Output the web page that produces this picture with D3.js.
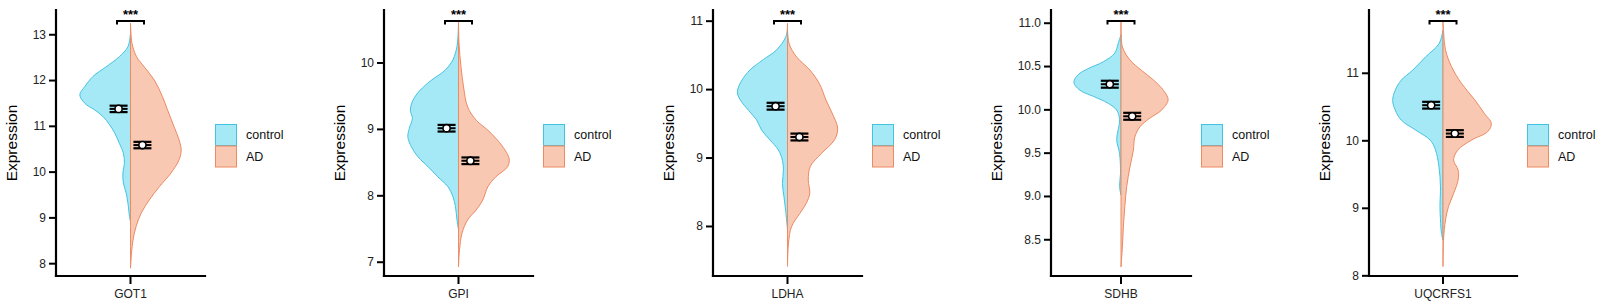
<!DOCTYPE html>
<html><head><meta charset="utf-8">
<script src="https://cdn.jsdelivr.net/npm/d3@7"></script>
<style>body{margin:0;background:#fff}svg{display:block}</style>
</head><body><svg id="c" width="1600" height="308"></svg>
<script>
const genes = ["GOT1","GPI","LDHA","SDHB","UQCRFS1"];
const groups = ["control","AD"];
const yTicks = [[8,9,10,11,12,13],[7,8,9,10],[8,9,10,11],[8.5,9,9.5,10,10.5,11],[8,9,10,11]];
const yDomains = [[7.72,13.53],[6.785,10.79],[7.269,11.156],[8.076,11.147],[7.99,11.93]];
const meanControl = [11.37, 9.01, 9.75, 10.29, 10.52];
const meanAD = [10.58, 8.52, 9.30, 9.92, 10.10];
const seControl = [0.07, 0.05, 0.05, 0.04, 0.05];
const seAD = [0.07, 0.05, 0.05, 0.04, 0.05];
const signif = ["***","***","***","***","***"];
// density profiles: [expression value, relative half-width]
const densControl = [
 [[13.02,0],[12.73,0.05],[12.51,0.22],[12.29,0.48],[12.08,0.74],[11.86,0.90],[11.68,1.0],[11.49,0.90],[11.35,0.71],[11.2,0.54],[11.02,0.41],[10.84,0.31],[10.62,0.22],[10.40,0.14],[10.18,0.12],[9.97,0.15],[9.75,0.14],[9.53,0.085],[9.31,0.05],[9.02,0.02],[8.91,0]],
 [[10.59,0],[10.39,0.01],[10.24,0.03],[10.04,0.11],[9.88,0.27],[9.73,0.54],[9.58,0.76],[9.43,0.90],[9.28,0.95],[9.16,0.91],[9.01,0.97],[8.88,1.0],[8.73,0.93],[8.58,0.80],[8.43,0.60],[8.28,0.41],[8.13,0.21],[7.98,0.11],[7.83,0.06],[7.63,0.03],[7.48,0]],
 [[10.94,0],[10.77,0.03],[10.57,0.22],[10.43,0.48],[10.28,0.74],[10.13,0.90],[9.96,0.99],[9.84,0.93],[9.69,0.77],[9.55,0.61],[9.40,0.51],[9.26,0.35],[9.11,0.18],[8.96,0.10],[8.82,0.08],[8.62,0.10],[8.43,0.07],[8.18,0.03],[7.94,0]],
 [[10.86,0],[10.76,0.06],[10.65,0.13],[10.55,0.37],[10.47,0.69],[10.40,0.90],[10.31,0.99],[10.22,0.86],[10.15,0.58],[10.07,0.27],[9.99,0.09],[9.88,0.03],[9.65,0.09],[9.49,0.03],[9.26,0.01],[9.11,0.03],[9.01,0]],
 [[11.63,0],[11.43,0.08],[11.24,0.34],[11.04,0.60],[10.89,0.83],[10.74,0.95],[10.59,1.0],[10.45,0.95],[10.30,0.83],[10.15,0.54],[10.0,0.25],[9.86,0.15],[9.61,0.08],[9.31,0.05],[9.02,0.06],[8.82,0.05],[8.62,0.03],[8.52,0]]
];
const densAD = [
 [[13.24,0],[12.80,0.03],[12.51,0.12],[12.29,0.27],[12.0,0.47],[11.64,0.63],[11.35,0.73],[10.98,0.86],[10.69,0.96],[10.47,1.0],[10.26,0.96],[9.97,0.80],[9.67,0.57],[9.38,0.37],[9.09,0.21],[8.80,0.11],[8.51,0.05],[8.22,0.02],[7.89,0]],
 [[10.64,0],[10.29,0.01],[9.93,0.05],[9.63,0.10],[9.33,0.18],[9.13,0.35],[8.98,0.58],[8.83,0.77],[8.68,0.92],[8.55,1.0],[8.43,0.97],[8.28,0.74],[8.13,0.58],[7.93,0.48],[7.78,0.35],[7.63,0.18],[7.43,0.07],[7.18,0.02],[6.92,0]],
 [[10.96,0],[10.67,0.03],[10.47,0.18],[10.28,0.44],[10.08,0.63],[9.84,0.76],[9.65,0.88],[9.43,0.99],[9.26,0.93],[9.06,0.67],[8.87,0.45],[8.67,0.41],[8.48,0.44],[8.33,0.37],[8.18,0.24],[7.99,0.08],[7.75,0.02],[7.41,0]],
 [[11.01,0],[10.72,0.03],[10.57,0.19],[10.45,0.43],[10.34,0.68],[10.22,0.89],[10.11,0.99],[9.99,0.85],[9.90,0.61],[9.80,0.40],[9.68,0.29],[9.53,0.26],[9.34,0.19],[9.11,0.12],[8.88,0.08],[8.65,0.05],[8.42,0.03],[8.18,0]],
 [[11.78,0],[11.34,0.05],[11.09,0.17],[10.84,0.37],[10.60,0.63],[10.40,0.82],[10.25,0.96],[10.13,0.89],[10.0,0.56],[9.86,0.30],[9.71,0.21],[9.56,0.30],[9.41,0.30],[9.21,0.21],[9.02,0.11],[8.82,0.05],[8.52,0.01],[8.13,0]]
];

// layout
const axisX = [56,384,713,1051,1369];
const plotW = [149,149,149,140,148];
const plotTop = 10, plotBottom = 276;
const fillC = "#a6e9f6", strokeC = "#45c2e0";
const fillA = "#f9c8b2", strokeA = "#ec8a62";
const font = "'Liberation Sans', Arial, sans-serif";

const svg = d3.select("#c");
genes.forEach((g,i)=>{
  const gp = svg.append("g");
  const y = d3.scaleLinear().domain(yDomains[i]).range([plotBottom, plotTop]);
  const x = d3.scaleBand().domain([g]).range([axisX[i], axisX[i]+plotW[i]]);
  const cx = x(g) + x.bandwidth()/2;
  const maxW = plotW[i]*0.34;
  const wScale = d3.scaleLinear().domain([0,1]).range([0,maxW]);
  const off = plotW[i]*0.08;

  const areaL = d3.area().curve(d3.curveCatmullRom.alpha(0.5))
    .y(d=>y(d[0])).x0(cx).x1(d=>cx - wScale(d[1]));
  const areaR = d3.area().curve(d3.curveCatmullRom.alpha(0.5))
    .y(d=>y(d[0])).x0(cx).x1(d=>cx + wScale(d[1]));
  gp.append("path").attr("d", areaL(densControl[i])).attr("fill", fillC).attr("stroke", strokeC).attr("stroke-width",1);
  gp.append("path").attr("d", areaR(densAD[i])).attr("fill", fillA).attr("stroke", strokeA).attr("stroke-width",1);

  // mean +/- se markers
  [[meanControl[i], seControl[i], cx-off],[meanAD[i], seAD[i], cx+off]].forEach(([m,se,px])=>{
    const hw = 9;
    gp.append("line").attr("x1",px).attr("x2",px).attr("y1",y(m-se)).attr("y2",y(m+se)).attr("stroke","#000").attr("stroke-width",2);
    [m-se, m+se].forEach(v=>gp.append("line").attr("x1",px-hw).attr("x2",px+hw).attr("y1",y(v)).attr("y2",y(v)).attr("stroke","#000").attr("stroke-width",2.2));
    gp.append("line").attr("x1",px-hw).attr("x2",px+hw).attr("y1",y(m)).attr("y2",y(m)).attr("stroke","#000").attr("stroke-width",2);
    gp.append("circle").attr("cx",px).attr("cy",y(m)).attr("r",3.6).attr("fill","#fff").attr("stroke","#000").attr("stroke-width",1.6);
  });

  // axes
  const fmt = i===3 ? d3.format(".1f") : d3.format("d");
  const ya = gp.append("g").attr("transform",`translate(${axisX[i]},0)`)
    .call(d3.axisLeft(y).tickValues(yTicks[i]).tickFormat(fmt).tickSize(7).tickPadding(3));
  ya.select(".domain").attr("d", `M0,${plotTop}V${plotBottom}`);
  const xa = gp.append("g").attr("transform",`translate(0,${plotBottom})`)
    .call(d3.axisBottom(x).tickSize(8).tickPadding(5));
  xa.select(".domain").attr("d", `M${axisX[i]},0H${axisX[i]+plotW[i]}`);
  [ya,xa].forEach(a=>{
    a.selectAll(".domain").attr("stroke","#000").attr("stroke-width",2.2).attr("stroke-linecap","square");
    a.selectAll(".tick line").attr("stroke","#000").attr("stroke-width",2);
    a.selectAll("text").attr("font-family",font).attr("font-size",12).attr("fill","#222");
  });
  let minX = 1e9;
  ya.selectAll("text").each(function(){ const b=this.getBBox(); minX=Math.min(minX,b.x); });
  const labX = axisX[i] + minX - 16;
  gp.append("text").attr("transform",`translate(${labX},${(plotTop+plotBottom)/2}) rotate(-90)`)
    .attr("text-anchor","middle").attr("font-family",font).attr("font-size",15.5).attr("fill","#000").text("Expression");

  // significance bracket
  const bw = 13.5, by = 21;
  gp.append("path").attr("d",`M${cx-bw},${by+3.5}V${by}H${cx+bw}V${by+3.5}`).attr("fill","none").attr("stroke","#000").attr("stroke-width",2);
  gp.append("text").attr("x",cx).attr("y",by-2).attr("text-anchor","middle").attr("font-family",font).attr("font-size",13).attr("font-weight","bold").text(signif[i]);

  // legend
  const lx = axisX[i]+plotW[i]+10, ly = 124;
  const cols = [[fillC,strokeC],[fillA,strokeA]];
  groups.forEach((gname,k)=>{
    gp.append("rect").attr("x",lx+0.5).attr("y",ly+k*21.5+0.5).attr("width",21).attr("height",21)
      .attr("fill",cols[k][0]).attr("stroke",cols[k][1]).attr("stroke-width",1);
    gp.append("text").attr("x",lx+31).attr("y",ly+k*21.5+15).attr("font-family",font).attr("font-size",12.5).attr("fill","#111").text(gname);
  });
});
</script></body></html>
